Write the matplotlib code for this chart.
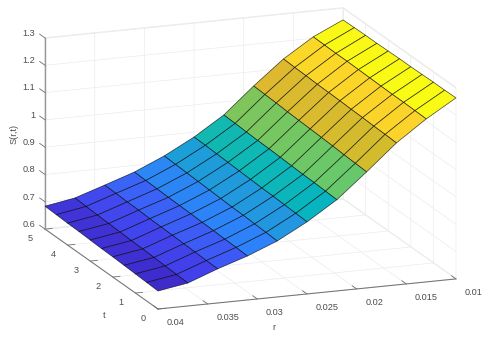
import numpy as np
import matplotlib
matplotlib.use("Agg")
import matplotlib.pyplot as plt
from matplotlib.colors import LinearSegmentedColormap, Normalize
from mpl_toolkits.mplot3d import proj3d

plt.rcParams["font.family"] = ["Liberation Sans", "DejaVu Sans"]

r_values = [0.04, 0.037, 0.034, 0.031, 0.028, 0.025, 0.022, 0.019, 0.016, 0.013, 0.01]
t_values = [0, 0.5, 1, 1.5, 2, 2.5, 3, 3.5, 4, 4.5, 5]
r_ticks = [0.04, 0.035, 0.03, 0.025, 0.02, 0.015, 0.01]
r_labels = ["0.04", "0.035", "0.03", "0.025", "0.02", "0.015", "0.01"]
t_ticks = [0, 1, 2, 3, 4, 5]
t_labels = ["0", "1", "2", "3", "4", "5"]
s_ticks = [0.6, 0.7, 0.8, 0.9, 1.0, 1.1, 1.2, 1.3]
s_labels = ["0.6", "0.7", "0.8", "0.9", "1", "1.1", "1.2", "1.3"]

# S(r,t), one row per t
s_t00 = [.666, .684, .725, .761, .805, .864, .934, 1.025, 1.120, 1.197, 1.263]
s_t05 = [.668, .686, .726, .763, .807, .866, .936, 1.027, 1.122, 1.198, 1.262]
s_t10 = [.670, .688, .728, .764, .809, .868, .938, 1.029, 1.123, 1.199, 1.262]
s_t15 = [.672, .690, .729, .766, .811, .870, .939, 1.032, 1.125, 1.199, 1.261]
s_t20 = [.674, .692, .731, .767, .812, .871, .941, 1.034, 1.126, 1.200, 1.260]
s_t25 = [.675, .693, .732, .769, .814, .873, .943, 1.036, 1.128, 1.201, 1.260]
s_t30 = [.677, .695, .733, .770, .816, .875, .945, 1.038, 1.129, 1.202, 1.259]
s_t35 = [.679, .697, .735, .771, .818, .877, .946, 1.040, 1.130, 1.203, 1.258]
s_t40 = [.680, .699, .736, .773, .820, .879, .948, 1.043, 1.132, 1.203, 1.258]
s_t45 = [.682, .701, .738, .774, .822, .881, .950, 1.045, 1.133, 1.204, 1.257]
s_t50 = [.684, .703, .739, .776, .824, .882, .952, 1.047, 1.135, 1.205, 1.256]

parula = LinearSegmentedColormap.from_list("parula", [
    (0.00, (0.242, 0.150, 0.660)),
    (0.03, (0.243, 0.176, 0.804)),
    (0.10, (0.260, 0.255, 0.922)),
    (0.16, (0.240, 0.350, 0.961)),
    (0.234, (0.176, 0.510, 0.980)),
    (0.33, (0.137, 0.588, 0.882)),
    (0.45, (0.030, 0.710, 0.745)),
    (0.50, (0.120, 0.730, 0.640)),
    (0.60, (0.400, 0.785, 0.420)),
    (0.75, (0.800, 0.740, 0.170)),
    (0.80, (0.900, 0.720, 0.190)),
    (0.885, (0.985, 0.820, 0.170)),
    (1.00, (0.976, 0.983, 0.080)),
])

Z = np.array([s_t00, s_t05, s_t10, s_t15, s_t20, s_t25, s_t30, s_t35, s_t40, s_t45, s_t50])
R, T = np.meshgrid(r_values, t_values)
# each facet takes its colour from the corner on the r=0.01 side
colors = parula(Normalize(Z.min(), Z.max())(Z[:-1, 1:]))

fig = plt.figure(figsize=(4.89, 3.43), dpi=100)
ax = fig.add_axes([0.1, 0.0, 343 / 489, 1.0], projection="3d", proj_type="ortho")
ax.set_box_aspect((318, 319, 198))
ax.view_init(elev=15.5, azim=-110.7)
ax.plot_surface(R, T, Z, facecolors=colors, rstride=1, cstride=1, shade=False,
                edgecolor=(0, 0, 0, 0.72), linewidth=0.5, antialiased=True)
ax.set_xlim(0.04, 0.01)
ax.set_ylim(0, 5)
ax.set_zlim(0.6, 1.3)
ax.set_xticks(r_ticks, [""] * len(r_ticks))
ax.set_yticks(t_ticks, [""] * len(t_ticks))
ax.set_zticks(s_ticks, [""] * len(s_ticks))

text_color = "#4d4d4d"
axis_color = "#707070"
tick_out = {"x": 0.5, "y": 0.3, "z": 0.6}
for name, axis in (("x", ax.xaxis), ("y", ax.yaxis), ("z", ax.zaxis)):
    axis.set_pane_color((1, 1, 1, 1))
    axis.pane.set_edgecolor("#ececec")
    axis.line.set_color(axis_color)
    axis.line.set_linewidth(0.7)
    axis._axinfo["grid"].update(color="#ececec", linewidth=0.5)
    axis._axinfo["tick"].update(inward_factor=0.0, outward_factor=tick_out[name],
                                linewidth={True: 0.6, False: 0.6})
    axis.set_tick_params(color=axis_color)
# the vertical axis is paler and a bit heavier in the reference
ax.zaxis.line.set_color("#979797")
ax.zaxis.line.set_linewidth(1.0)
# z ticks point along t in the reference
ax.zaxis._get_tickdir = lambda position: 1

# line the box up with the corners of the reference, in pixels
target_front = (158, 343 - 309)
target_right = (456, 343 - 279)
fig.canvas.draw()


def projected(x, y, z):
    u, v, _ = proj3d.proj_transform(x, y, z, ax.get_proj())
    return float(u), float(v)


box = ax.get_position().bounds
x0, y0 = box[0] * 489, box[1] * 343
size = box[2] * 489
front = ax.transData.transform(projected(0.04, 0, 0.6))
right = ax.transData.transform(projected(0.01, 0, 0.6))
scale = (target_right[0] - target_front[0]) / (right[0] - front[0])
left_new = target_front[0] - (front[0] - x0) * scale
bottom_new = target_front[1] - (front[1] - y0) * scale
ax.set_position([left_new / 489, bottom_new / 343, size * scale / 489, size * scale / 343])


def tick_label(point, label, offset, ha):
    ax.annotate(label, projected(*point), xytext=offset, textcoords="offset pixels",
                fontsize=6.6, color=text_color, ha=ha, va="center", annotation_clip=False)


for value, label in zip(r_ticks, r_labels):
    tick_label((value, 0, 0.6), label, (8.5, -13.5), "left")
for value, label in zip(t_ticks, t_labels):
    tick_label((0.04, value, 0.6), label, (-14.4, -9.3), "center")
for value, label in zip(s_ticks, s_labels):
    tick_label((0.04, 5, value), label, (-9.7, 4.7), "right")

fig.text(104 / 489, 1 - 315 / 343, "t", fontsize=6.6, color=text_color, ha="center", va="center")
fig.text(274 / 489, 1 - 328 / 343, "r", fontsize=6.6, color=text_color, ha="center", va="center")
fig.text(14 / 489, 1 - 134 / 343, "S(r,t)", fontsize=6.6, color=text_color, rotation=90, ha="center", va="center")

fig.savefig("out.png", dpi=100)
